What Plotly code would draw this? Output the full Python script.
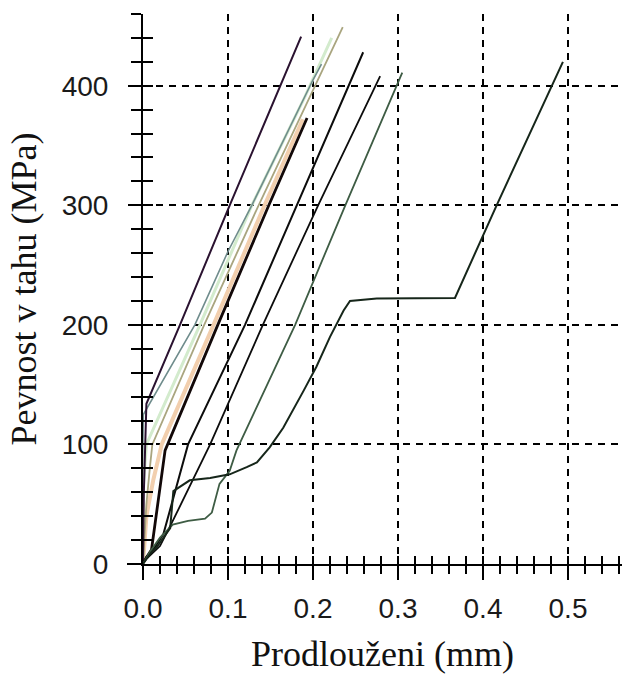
import plotly.graph_objects as go

# Elongation (mm) and tensile strength (MPa) for each specimen
peach_x = [0.0, 0.004, 0.012, 0.022, 0.083, 0.143, 0.188]
peach_y = [0, 40, 70, 100, 200, 300, 372]

palegreen_x = [0.0, 0.0, 0.004, 0.067, 0.128, 0.19, 0.222]
palegreen_y = [0, 60, 100, 200, 300, 390, 440]

khaki_x = [0.0, 0.004, 0.008, 0.011, 0.072, 0.136, 0.235]
khaki_y = [0, 50, 80, 100, 200, 300, 449]

steel_x = [0.0, -0.001, 0.0004, 0.061, 0.1004, 0.128, 0.2, 0.21]
steel_y = [0, 60, 125, 200, 262, 300, 405, 418]

purple_x = [0.0, 0.001, 0.004, 0.0435, 0.102, 0.161, 0.186]
purple_y = [0, 60, 134, 200, 300, 400, 441]

black1_x = [0.001, 0.01, 0.026, 0.088, 0.148, 0.193]
black1_y = [2, 12, 95, 200, 300, 373]

black2_x = [0.003, 0.012, 0.024, 0.053, 0.12, 0.181, 0.259]
black2_y = [5, 12, 25, 100, 200, 300, 428]

black3_x = [0.005, 0.02, 0.035, 0.079, 0.141, 0.206, 0.279]
black3_y = [5, 15, 36, 100, 200, 300, 408]

green_x = [0.0, 0.008, 0.02, 0.035, 0.053, 0.073, 0.081, 0.087, 0.09, 0.102,
           0.11, 0.179, 0.238, 0.305]
green_y = [0, 10, 22, 33, 36, 38, 43, 58, 67, 78, 95, 200, 300, 411]

plateau_x = [0.0, 0.01, 0.016, 0.032, 0.0357, 0.055, 0.079, 0.102, 0.122, 0.134,
             0.149, 0.165, 0.189, 0.204, 0.22, 0.236, 0.2435, 0.275, 0.367,
             0.416, 0.494]
plateau_y = [0, 10, 14, 30, 61, 70, 72, 75, 81, 85, 97.5, 114, 145, 165, 190,
             212, 220, 222, 222.5, 300, 420]

series = [
    (peach_x, peach_y, "#f2cfae", 4),
    (palegreen_x, palegreen_y, "#d3ebcd", 3),
    (khaki_x, khaki_y, "#a9a57f", 1.8),
    (steel_x, steel_y, "#6f8c8c", 1.6),
    (purple_x, purple_y, "#2a1230", 2),
    (black1_x, black1_y, "#120808", 2.8),
    (black2_x, black2_y, "#0c0c0c", 2),
    (black3_x, black3_y, "#0c0c0c", 1.8),
    (green_x, green_y, "#3e5c44", 1.8),
    (plateau_x, plateau_y, "#16261a", 2),
]

x_range = [0, 0.5635]
y_range = [0, 460]

fig = go.Figure()
for xs, ys, col, w in series:
    fig.add_trace(go.Scatter(x=xs, y=ys, mode="lines",
                             line=dict(color=col, width=w),
                             hoverinfo="skip", showlegend=False))

# empty trace so the overlay axes (inner half of the crossing ticks) are drawn
fig.add_trace(go.Scatter(x=[], y=[], xaxis="x2", yaxis="y2", showlegend=False))

tick_font = dict(family="Liberation Sans", size=28, color="#1a1a1a")
title_font = dict(family="Times New Roman, Liberation Serif, DejaVu Serif, serif",
                  size=36, color="#111")

fig.update_layout(
    width=622, height=686,
    margin=dict(l=143, r=0, t=14, b=122),
    paper_bgcolor="white", plot_bgcolor="white",
    xaxis=dict(
        range=x_range, dtick=0.1, tick0=0, tickformat=".1f",
        showline=True, linecolor="black", linewidth=2,
        ticks="outside", ticklen=14, tickwidth=2, tickcolor="black",
        minor=dict(ticks="outside", ticklen=8, tickwidth=2, tickcolor="black",
                   dtick=0.02, showgrid=False),
        showgrid=True, gridcolor="black", gridwidth=2, griddash="7px,6px",
        zeroline=False, tickfont=tick_font, ticklabelstandoff=4,
        title=dict(text="Prodlouženi (mm)", font=title_font, standoff=18),
    ),
    yaxis=dict(
        range=y_range, dtick=100, tick0=0,
        showline=True, linecolor="black", linewidth=2,
        ticks="outside", ticklen=13, tickwidth=2, tickcolor="black",
        minor=dict(ticks="outside", ticklen=10, tickwidth=2, tickcolor="black",
                   dtick=20, showgrid=False),
        showgrid=True, gridcolor="black", gridwidth=2, griddash="7px,6px",
        zeroline=False, tickfont=tick_font, ticklabelstandoff=14,
        title=dict(text="Pevnost v tahu (MPa)", font=title_font, standoff=14),
    ),
    xaxis2=dict(
        overlaying="x", anchor="y2", side="bottom", range=x_range,
        dtick=0.1, tick0=0, ticks="inside", ticklen=8, tickwidth=2,
        tickcolor="black", showticklabels=False, showgrid=False,
        showline=False, zeroline=False,
        minor=dict(ticks="inside", ticklen=8, tickwidth=2, tickcolor="black",
                   dtick=0.02, showgrid=False),
    ),
    yaxis2=dict(
        overlaying="y", anchor="x2", side="left", range=y_range,
        dtick=100, tick0=0, ticks="inside", ticklen=10, tickwidth=2,
        tickcolor="black", showticklabels=False, showgrid=False,
        showline=False, zeroline=False,
        minor=dict(ticks="inside", ticklen=10, tickwidth=2, tickcolor="black",
                   dtick=20, showgrid=False),
    ),
    shapes=[
        # axis lines run a little past the origin
        dict(type="line", xref="paper", yref="paper", x0=-16 / 479, x1=0,
             y0=0, y1=0, line=dict(color="black", width=2)),
        dict(type="line", xref="paper", yref="paper", x0=0, x1=0,
             y0=-14 / 550, y1=0, line=dict(color="black", width=2)),
    ],
)

fig.write_html("out.html")
